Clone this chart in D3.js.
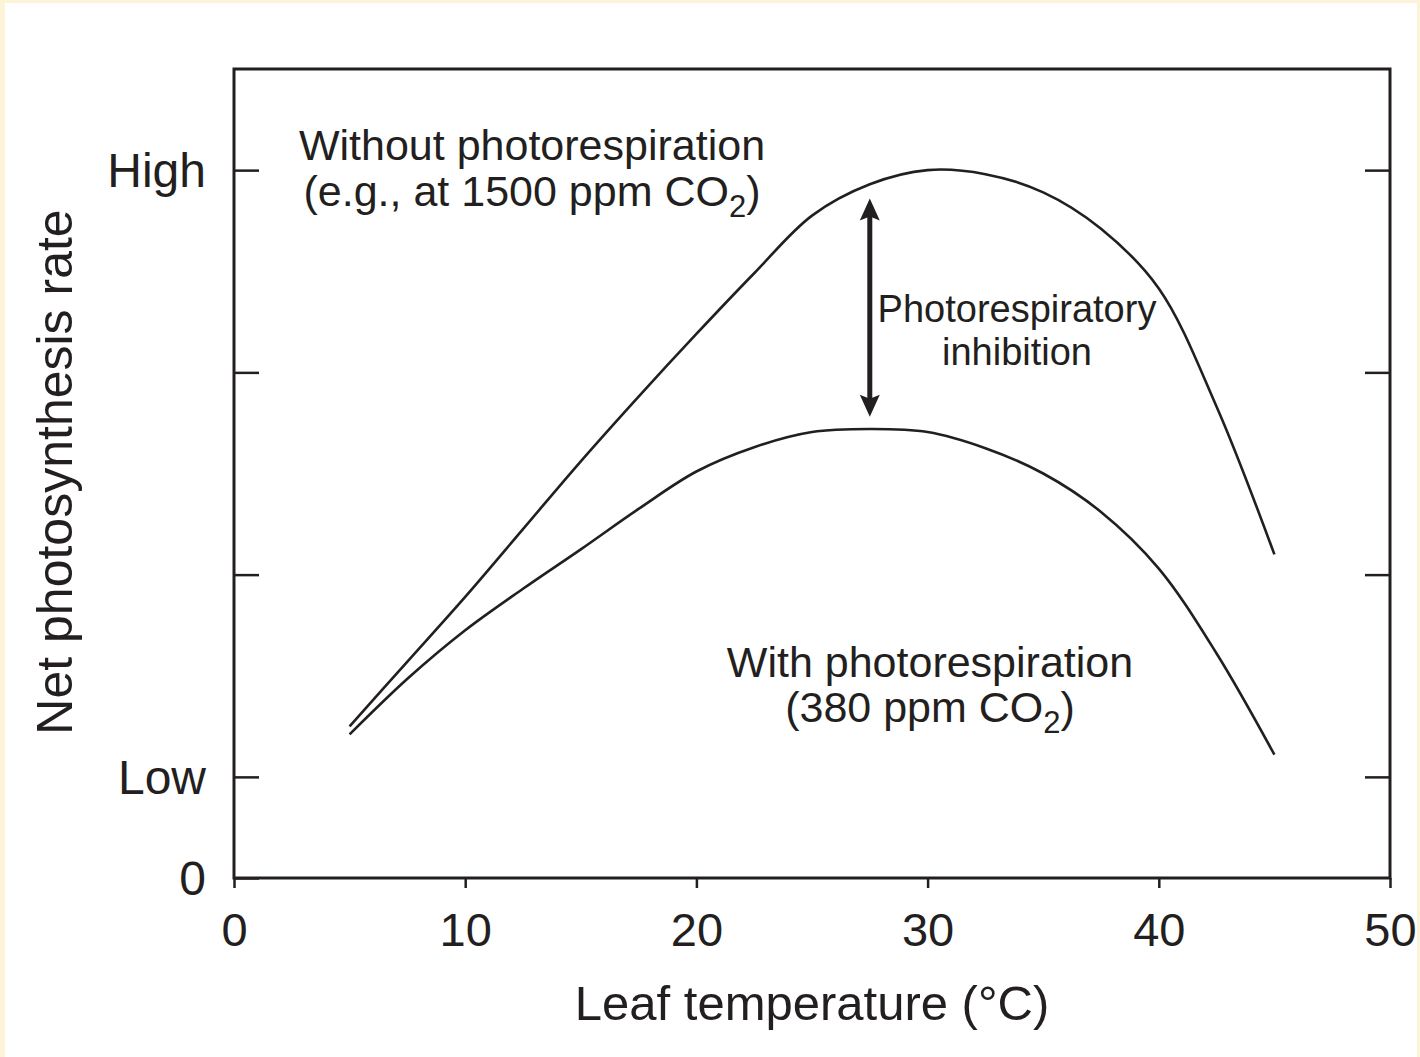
<!DOCTYPE html>
<html>
<head>
<meta charset="utf-8">
<script src="https://cdn.jsdelivr.net/npm/d3@7"></script>
<style>
  html, body { margin: 0; padding: 0; background: #fdf3d9; }
  svg { display: block; }
  text { font-family: "Liberation Sans", Arial, Helvetica, sans-serif; fill: #231f20; }
</style>
</head>
<body>
<svg id="chart" width="1420" height="1057"></svg>
<script>

// temperature (deg C) where the curves were read
var temps = [5, 7.5, 10, 12.5, 15, 17.5, 20, 22.5, 25, 27.5, 30, 32.5, 35, 37.5, 40, 42.5, 45];

// net photosynthesis, relative units (Low = 1, High = 7)
var withoutPR = [1.50, 2.14, 2.78, 3.45, 4.12, 4.76, 5.38, 5.98, 6.55, 6.86, 7.00, 6.96, 6.78, 6.42, 5.83, 4.66, 3.20];
var withPR    = [1.42, 1.97, 2.45, 2.86, 3.25, 3.65, 4.02, 4.26, 4.41, 4.44, 4.41, 4.25, 4.00, 3.62, 3.06, 2.22, 1.22];

var xTicks = [0, 10, 20, 30, 40, 50];
var yTicks = [0, 1, 3, 5, 7];
var yTickLabels = {0: "0", 1: "Low", 7: "High"};

var arrowAt = 27.5, arrowTop = 6.72, arrowBottom = 4.56;

var svg = d3.select("svg"),
  width = +svg.attr("width"),
  height = +svg.attr("height");

// white card inside the cream border
svg.append("rect")
  .attr("x", 5).attr("y", 3)
  .attr("width", 1412).attr("height", height - 3)
  .attr("fill", "#ffffff");

var x = d3.scaleLinear().domain([0, 50]).range([234, 1390]);
var y = d3.scaleLinear().domain([0, 8]).range([878, 69]);

var ink = "#231f20";

// left axis, ticks pointing inward
var left = svg.append("g")
  .attr("transform", "translate(" + x(0) + ",0)")
  .call(d3.axisLeft(y).tickValues(yTicks).tickSize(-25).tickPadding(28)
    .tickFormat(function(d) { return yTickLabels[d] || ""; }));

// right axis, no labels
var right = svg.append("g")
  .attr("transform", "translate(" + x(50) + ",0)")
  .call(d3.axisRight(y).tickValues(yTicks.filter(function(d) { return d > 0; })).tickSize(-25).tickFormat(""));

// bottom axis, ticks outward
var bottom = svg.append("g")
  .attr("transform", "translate(0," + y(0) + ")")
  .call(d3.axisBottom(x).tickValues(xTicks).tickSize(10).tickPadding(24));

[left, right, bottom].forEach(function(g) {
  g.select(".domain").remove();
  g.selectAll("line").attr("stroke", ink).attr("stroke-width", 2.5);
  g.selectAll("text").attr("fill", ink)
    .style("font-family", "'Liberation Sans', Arial, sans-serif");
});
left.selectAll("text").attr("font-size", 48).attr("dy", "0.34em");
bottom.selectAll("text").attr("font-size", 47).attr("dy", "0.72em");

// frame
svg.append("rect")
  .attr("x", x(0)).attr("y", y(8))
  .attr("width", x(50) - x(0)).attr("height", y(0) - y(8))
  .attr("fill", "none").attr("stroke", ink).attr("stroke-width", 3);

// curves
var line = d3.line()
  .x(function(d) { return x(d[0]); })
  .y(function(d) { return y(d[1]); })
  .curve(d3.curveCatmullRom.alpha(0.5));

[withoutPR, withPR].forEach(function(vals) {
  svg.append("path")
    .datum(temps.map(function(t, i) { return [t, vals[i]]; }))
    .attr("d", line)
    .attr("fill", "none")
    .attr("stroke", ink)
    .attr("stroke-width", 2.6);
});

// double headed arrow
var ax = x(arrowAt), ay1 = y(arrowTop), ay2 = y(arrowBottom);
svg.append("line")
  .attr("x1", ax).attr("x2", ax)
  .attr("y1", ay1 + 14).attr("y2", ay2 - 14)
  .attr("stroke", ink).attr("stroke-width", 5);
svg.append("path")
  .attr("d", "M" + ax + "," + ay1 + "l-10,22l10,-4l10,4z")
  .attr("fill", ink);
svg.append("path")
  .attr("d", "M" + ax + "," + ay2 + "l-10,-22l10,4l10,-4z")
  .attr("fill", ink);

// annotations
function label(lines, cx, cy, size, lineGap) {
  var t = svg.append("text")
    .attr("text-anchor", "middle")
    .attr("font-size", size);
  lines.forEach(function(parts, i) {
    var first = true;
    parts.forEach(function(p) {
      var s = t.append("tspan").text(p.t);
      if (first) { s.attr("x", cx).attr("y", cy + i * lineGap); first = false; }
      if (p.sub) s.attr("font-size", size * 0.72).attr("dy", "0.35em");
      if (p.back) s.attr("dy", "-0.25em");
    });
  });
}

label([[{t: "Without photorespiration"}],
       [{t: "(e.g., at 1500 ppm CO"}, {t: "2", sub: true}, {t: ")", back: true}]],
  532, 160, 43, 46);

label([[{t: "Photorespiratory"}], [{t: "inhibition"}]], 1017, 322, 38, 43);

label([[{t: "With photorespiration"}],
       [{t: "(380 ppm CO"}, {t: "2", sub: true}, {t: ")", back: true}]],
  930, 677, 43, 45);

// axis titles
svg.append("text")
  .attr("x", 812).attr("y", 1020)
  .attr("text-anchor", "middle")
  .attr("font-size", 49)
  .text("Leaf temperature (°C)");

svg.append("text")
  .attr("transform", "translate(72," + 472 + ") rotate(-90)")
  .attr("text-anchor", "middle")
  .attr("font-size", 50)
  .text("Net photosynthesis rate");

</script>
</body>
</html>
